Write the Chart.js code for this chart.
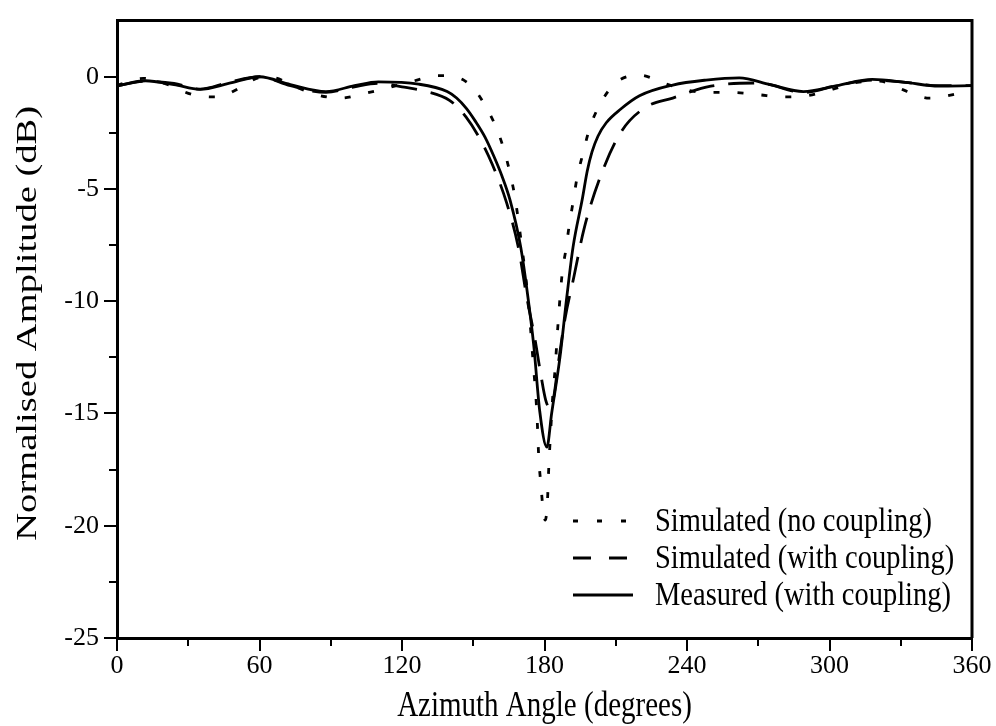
<!DOCTYPE html>
<html>
<head>
<meta charset="utf-8">
<script src="https://cdn.jsdelivr.net/npm/chart.js@4.4.1/dist/chart.umd.min.js"></script>
<style>
  html, body { margin: 0; padding: 0; background: #ffffff; }
  #wrap { width: 996px; height: 726px; position: relative; }
</style>
</head>
<body>
<div id="wrap"><canvas id="c" width="996" height="726"></canvas></div>
<script>
// ---- Data ----
const seriesNames = ['Simulated (no coupling)', 'Simulated (with coupling)', 'Measured (with coupling)'];

const noCouplingAngle = [0, 5, 11, 20, 32, 42, 52.6, 60, 66, 73, 84, 94, 104, 114, 124.6, 135, 142, 146, 150, 154, 159, 162.5, 165.5, 167.6, 170.5, 173, 175.2, 176.8, 177.6, 178.6, 179.4, 180.3, 181.2, 181.8, 182.6, 183.5, 184.4, 185.7, 187.4, 189, 190.3, 192, 193.7, 196, 199, 203, 209.7, 220, 230.7, 240, 248.8, 259, 270, 280, 290.5, 301.5, 311.6, 321, 332.6, 342, 352, 360];
const noCouplingDb    = [-0.4, -0.2, -0.07, -0.3, -0.8, -0.9, -0.45, -0.05, -0.05, -0.35, -0.8, -0.95, -0.75, -0.5, -0.2, 0.05, 0.0, -0.15, -0.5, -1.1, -2.1, -3.1, -4.3, -5.4, -7.6, -9.8, -12.7, -15.0, -17.0, -18.3, -19.3, -19.75, -19.0, -17.4, -15.8, -14.2, -13.1, -11.0, -8.8, -7.7, -6.7, -5.6, -4.5, -3.5, -2.3, -1.3, -0.3, 0.07, -0.3, -0.6, -0.7, -0.7, -0.8, -0.9, -0.85, -0.55, -0.25, -0.2, -0.65, -0.95, -0.8, -0.55];

const withCouplingAngle = [0, 12, 24, 35, 47, 60, 73, 88, 100, 110, 120, 130, 140, 147, 153, 158, 164, 169, 172.5, 176, 178.5, 180.5, 182.5, 184, 185.5, 188.6, 192.4, 196.6, 203, 212, 222, 234, 250, 270, 289, 303, 318, 332, 346, 360];
const withCouplingDb    = [-0.4, -0.2, -0.3, -0.55, -0.25, 0.0, -0.4, -0.7, -0.45, -0.3, -0.45, -0.65, -1.05, -1.8, -2.8, -3.9, -5.6, -7.6, -9.8, -11.7, -13.3, -14.4, -14.8, -14.2, -13.0, -10.8, -8.9, -6.8, -4.6, -2.5, -1.4, -0.95, -0.42, -0.28, -0.7, -0.4, -0.15, -0.25, -0.4, -0.4];

const measuredAngle = [0, 12, 24, 35, 47, 60, 73, 88, 100, 110, 127, 139, 143, 147, 151, 155, 158.5, 162, 165.5, 170, 173, 175.5, 178, 181, 183, 186.5, 189.4, 192, 196, 198, 200, 202.5, 206, 212, 220, 234, 248, 262, 275, 289, 303, 318, 332, 346, 360];
const measuredDb    = [-0.42, -0.18, -0.35, -0.56, -0.3, 0.0, -0.35, -0.66, -0.4, -0.23, -0.33, -0.66, -0.95, -1.4, -2.0, -2.7, -3.5, -4.4, -5.5, -7.6, -9.8, -12.0, -14.9, -16.5, -15.0, -12.5, -9.8, -7.6, -5.4, -4.2, -3.35, -2.65, -2.05, -1.45, -0.85, -0.37, -0.15, -0.05, -0.35, -0.66, -0.4, -0.12, -0.25, -0.42, -0.4];

const xTickValues = [0, 60, 120, 180, 240, 300, 360];
const yTickValues = [-25, -20, -15, -10, -5, 0];

const xTitle = 'Azimuth Angle (degrees)';
const yTitle = 'Normalised Amplitude (dB)';

// ---- helpers ----
function pairs(a, b) { return a.map((v, i) => ({ x: v, y: b[i] })); }

const FONT = "'Liberation Serif', 'Times New Roman', serif";

function stretchedText(ctx, text, x, y, sx, sy, rot) {
  ctx.save();
  ctx.translate(x, y);
  if (rot) ctx.rotate(rot);
  ctx.scale(sx, sy);
  ctx.fillText(text, 0, 0);
  ctx.restore();
}

const frameAndMinor = {
  id: 'frameAndMinor',
  afterDraw(chart) {
    const { ctx, chartArea: ca, scales } = chart;
    const xs = scales.x, ys = scales.y;
    ctx.save();
    ctx.strokeStyle = '#000';
    // top & right frame
    ctx.lineWidth = 3;
    ctx.beginPath();
    ctx.moveTo(ca.left, ca.top);
    ctx.lineTo(ca.right, ca.top);
    ctx.lineTo(ca.right, ca.bottom);
    ctx.stroke();
    // minor ticks
    ctx.lineWidth = 2;
    ctx.beginPath();
    for (let i = 0; i < xTickValues.length - 1; i++) {
      const v = (xTickValues[i] + xTickValues[i + 1]) / 2;
      const px = Math.round(xs.getPixelForValue(v));
      ctx.moveTo(px, ca.bottom);
      ctx.lineTo(px, ca.bottom + 8);
    }
    for (let i = 0; i < yTickValues.length - 1; i++) {
      const v = (yTickValues[i] + yTickValues[i + 1]) / 2;
      const py = Math.round(ys.getPixelForValue(v));
      ctx.moveTo(ca.left, py);
      ctx.lineTo(ca.left - 8, py);
    }
    ctx.stroke();

    ctx.fillStyle = '#000';
    ctx.textBaseline = 'middle';
    // axis titles (text in the reference is vertically stretched)
    ctx.font = '29px ' + FONT;
    ctx.textAlign = 'center';
    stretchedText(ctx, xTitle, (ca.left + ca.right) / 2, 706, 1, 1.25, 0);
    stretchedText(ctx, yTitle, 28, (ca.top + ca.bottom) / 2 - 6, 1.33, 1, -Math.PI / 2);

    // legend
    const ds = chart.data.datasets;
    const rows = [521, 558, 595];
    const legendDash = [[5, 19], [18, 18], []];
    ctx.font = '28.5px ' + FONT;
    ctx.textAlign = 'left';
    ds.forEach((d, i) => {
      ctx.lineWidth = 3;
      ctx.setLineDash(legendDash[i]);
      ctx.beginPath();
      ctx.moveTo(573, rows[i]);
      ctx.lineTo(633, rows[i]);
      ctx.stroke();
      ctx.setLineDash([]);
      stretchedText(ctx, d.label, 655, rows[i] + 1, 1, 1.15, 0);
    });
    ctx.restore();
  }
};

const common = {
  showLine: true,
  borderColor: '#000',
  backgroundColor: '#000',
  borderWidth: 2.8,
  pointRadius: 0,
  fill: false,
  cubicInterpolationMode: 'monotone'
};

new Chart(document.getElementById('c'), {
  type: 'scatter',
  data: {
    datasets: [
      Object.assign({}, common, { label: seriesNames[0], data: pairs(noCouplingAngle, noCouplingDb), borderDash: [6, 18] }),
      Object.assign({}, common, { label: seriesNames[1], data: pairs(withCouplingAngle, withCouplingDb), borderDash: [26, 14] }),
      Object.assign({}, common, { label: seriesNames[2], data: pairs(measuredAngle, measuredDb) })
    ]
  },
  options: {
    responsive: false,
    animation: false,
    devicePixelRatio: 1,
    layout: { padding: { top: 8, right: 24, left: 0, bottom: 0 } },
    plugins: { legend: { display: false }, tooltip: { enabled: false } },
    scales: {
      x: {
        type: 'linear',
        min: 0, max: 360,
        afterBuildTicks(s) { s.ticks = xTickValues.map(v => ({ value: v })); },
        afterFit(s) { s.height = 88; },
        ticks: { color: '#000', font: { family: FONT, size: 26 }, padding: 0, maxRotation: 0, autoSkip: false },
        grid: { drawOnChartArea: false, drawTicks: true, tickLength: 13, color: '#000', lineWidth: 2 },
        border: { display: true, color: '#000', width: 3 },
        title: { display: false }
      },
      y: {
        type: 'linear',
        min: -25, max: 2.5,
        afterBuildTicks(s) { s.ticks = yTickValues.map(v => ({ value: v })); },
        afterFit(s) { s.width = 117; },
        ticks: { color: '#000', font: { family: FONT, size: 26 }, padding: 5 },
        grid: { drawOnChartArea: false, drawTicks: true, tickLength: 13, color: '#000', lineWidth: 2 },
        border: { display: true, color: '#000', width: 3 },
        title: { display: false }
      }
    }
  },
  plugins: [frameAndMinor]
});
</script>
</body>
</html>
